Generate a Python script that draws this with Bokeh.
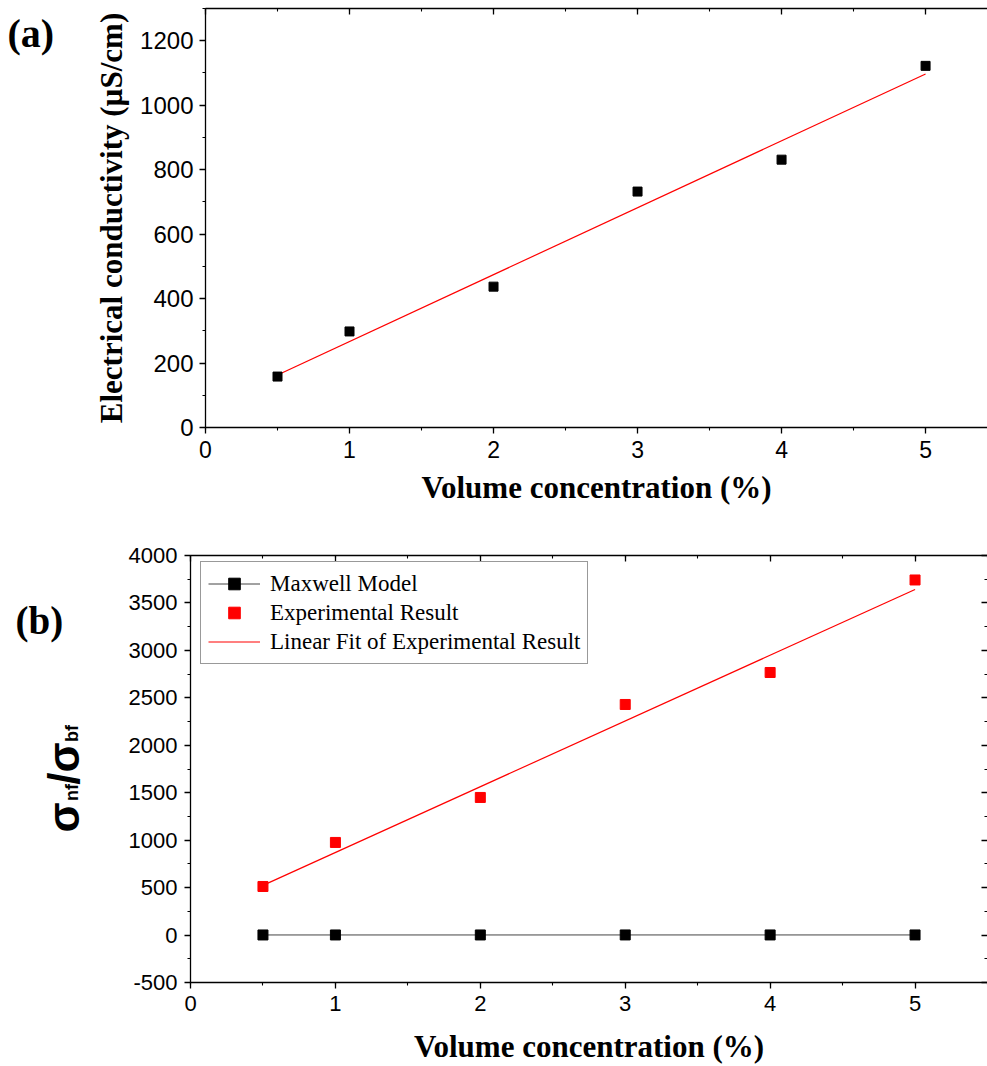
import math
from bokeh.plotting import figure
from bokeh.layouts import column, row
from bokeh.core.properties import value
from bokeh.models import (Range1d, LinearAxis, SingleIntervalTicker, Legend,
                          LegendItem, CustomJSTickFormatter)
from bokeh.embed import file_html
from bokeh.resources import INLINE

# ---------------- data ----------------
vol = [0.5, 1, 2, 3, 4, 5]
cond = [158, 298, 437, 732, 831, 1122]
cond_fit_x = [0.5, 5]
cond_fit_y = [163, 1097]

ratio_exp = [512, 976, 1450, 2430, 2767, 3742]
ratio_maxwell = [1.01, 1.03, 1.06, 1.09, 1.12, 1.15]
ratio_fit_x = [0.5, 5]
ratio_fit_y = [524, 3642]

x_label = "Volume concentration (%)"
y_label_a = "Electrical conductivity (\u00b5S/cm)"
legend_labels = ["Maxwell Model", "Experimental Result", "Linear Fit of Experimental Result"]
sigma_parts = ["\u03c3", "nf", "/\u03c3", "bf"]

SANS = "Liberation Sans"
SERIF = "Liberation Serif"

H1, H2 = 530, 536
G1, G2 = 80, 100
# page positions of the plot frames (top, bottom)
F1_TOP, F1_BOT = 8, 427
F2_TOP, F2_BOT = 555, 982


def style_axis(ax, tick_size, out=True):
    ax.axis_line_color = "black"
    ax.axis_line_width = 1.3
    ax.major_tick_line_color = "black"
    ax.minor_tick_line_color = "black"
    ax.major_tick_line_width = 1.3
    ax.minor_tick_line_width = 1.1
    if out:
        ax.major_tick_out, ax.major_tick_in = 6, 0
        ax.minor_tick_out, ax.minor_tick_in = 3, 0
    else:
        ax.major_tick_out, ax.major_tick_in = 0, 6
        ax.minor_tick_out, ax.minor_tick_in = 0, 3
    ax.major_label_text_font = SANS
    ax.major_label_text_font_size = tick_size
    ax.major_label_text_color = "black"
    ax.axis_label_text_color = "black"


def blank_axis(ax):
    ax.formatter = CustomJSTickFormatter(code="return ''")
    ax.major_label_standoff = 0


def gutter(w, h, top, bot):
    # the gutter's frame is aligned with its neighbour's frame; its y data = -page y
    g = figure(width=w, height=h, output_backend="svg", toolbar_location=None, title=None,
               x_range=Range1d(0, w), y_range=Range1d(-bot, -top), min_border=0,
               x_axis_location=None, y_axis_location=None)
    g.outline_line_color = None
    g.grid.visible = False
    return g


# ---------------- panel (a) ----------------
p1 = figure(width=987 - G1, height=H1, output_backend="svg", toolbar_location=None,
            x_range=Range1d(0, 5.43), y_range=Range1d(0, 1300),
            min_border_left=205 - G1, min_border_right=0, min_border_top=F1_TOP,
            min_border_bottom=H1 - F1_BOT, x_axis_location=None, y_axis_location=None)
p1.outline_line_color = None
p1.grid.visible = False

xb1 = LinearAxis(ticker=SingleIntervalTicker(interval=1, num_minor_ticks=2), axis_label=x_label)
style_axis(xb1, "23px")
xb1.major_label_standoff = 7
xb1.axis_label_text_font = SERIF
xb1.axis_label_text_font_style = "bold"
xb1.axis_label_text_font_size = "31px"
xb1.axis_label_standoff = 9
p1.add_layout(xb1, "below")

yl1 = LinearAxis(ticker=SingleIntervalTicker(interval=200, num_minor_ticks=2), axis_label=y_label_a)
style_axis(yl1, "24px")
yl1.major_label_standoff = 6
yl1.axis_label_text_font = SERIF
yl1.axis_label_text_font_style = "bold"
yl1.axis_label_text_font_size = "31px"
yl1.axis_label_standoff = 8
p1.add_layout(yl1, "left")

xa1 = LinearAxis(ticker=SingleIntervalTicker(interval=1, num_minor_ticks=2))
style_axis(xa1, "10px", out=False)
blank_axis(xa1)
p1.add_layout(xa1, "above")

p1.line(cond_fit_x, cond_fit_y, color="red", line_width=1.2)
p1.scatter(vol, cond, marker="square", size=9, color="black")

g1 = gutter(G1, H1, F1_TOP, F1_BOT)
g1.text(x=[7], y=[-33], text=["(a)"], text_font=value(SERIF), text_font_style="bold",
        text_font_size="40px", text_baseline="middle", text_align="left", text_color="black")

# ---------------- panel (b) ----------------
p2 = figure(width=987 - G2, height=H2, output_backend="svg", toolbar_location=None,
            x_range=Range1d(0, 5.5), y_range=Range1d(-500, 4000),
            min_border_left=190 - G2, min_border_right=0, min_border_top=F2_TOP - H1,
            min_border_bottom=H2 - (F2_BOT - H1), x_axis_location=None, y_axis_location=None)
p2.outline_line_color = None
p2.grid.visible = False

xb2 = LinearAxis(ticker=SingleIntervalTicker(interval=1, num_minor_ticks=2), axis_label=x_label)
style_axis(xb2, "22px")
xb2.major_label_standoff = 7
xb2.axis_label_text_font = SERIF
xb2.axis_label_text_font_style = "bold"
xb2.axis_label_text_font_size = "31px"
xb2.axis_label_standoff = 15
p2.add_layout(xb2, "below")

yl2 = LinearAxis(ticker=SingleIntervalTicker(interval=500, num_minor_ticks=2))
style_axis(yl2, "22px")
yl2.formatter = CustomJSTickFormatter(code="return tick.toFixed(0)")
yl2.major_label_standoff = 7
p2.add_layout(yl2, "left")

xa2 = LinearAxis(ticker=SingleIntervalTicker(interval=1, num_minor_ticks=2))
style_axis(xa2, "10px", out=False)
blank_axis(xa2)
p2.add_layout(xa2, "above")

yr2 = LinearAxis(ticker=SingleIntervalTicker(interval=500, num_minor_ticks=2))
style_axis(yr2, "10px", out=False)
blank_axis(yr2)
yr2.axis_line_color = None
p2.add_layout(yr2, "right")

r_fit = p2.line(ratio_fit_x, ratio_fit_y, color="red", line_width=1.2)
r_max_line = p2.line(vol, ratio_maxwell, color="#444444", line_width=1)
r_max_pts = p2.scatter(vol, ratio_maxwell, marker="square", size=10, color="black")
r_exp = p2.scatter(vol, ratio_exp, marker="square", size=10, color="red")

legend = Legend(items=[
    LegendItem(label=legend_labels[0], renderers=[r_max_line, r_max_pts]),
    LegendItem(label=legend_labels[1], renderers=[r_exp]),
    LegendItem(label=legend_labels[2], renderers=[r_fit]),
], location=(10, 318))
legend.label_text_font = SERIF
legend.label_text_font_size = "23px"
legend.label_text_color = "black"
legend.glyph_width = 52
legend.glyph_height = 29
legend.label_height = 29
legend.spacing = 0
legend.padding = 7
legend.margin = 0
legend.label_standoff = 10
legend.border_line_color = "#333333"
legend.border_line_width = 1
legend.background_fill_alpha = 1
p2.add_layout(legend)

g2 = gutter(G2, H2, F2_TOP, F2_BOT)
g2.text(x=[15], y=[-620], text=["(b)"], text_font=value(SERIF), text_font_style="bold",
        text_font_size="39px", text_baseline="middle", text_align="left", text_color="black")
# rotated y label sigma_nf / sigma_bf: page-centre of each piece, read bottom-to-top
centres_y = [817, 792, 763, 733]
centres_x = [63, 71, 63, 71]
g2.text(x=centres_x, y=[-c for c in centres_y],
        text=sigma_parts, angle=math.pi / 2,
        text_font=value(SANS), text_font_style="bold",
        text_font_size=["44px", "18px", "44px", "18px"],
        text_baseline="middle", text_align="center", text_color="black")

layout = column(row(g1, p1, spacing=0), row(g2, p2, spacing=0), spacing=0)
open("out.html", "w").write(file_html(layout, INLINE))
